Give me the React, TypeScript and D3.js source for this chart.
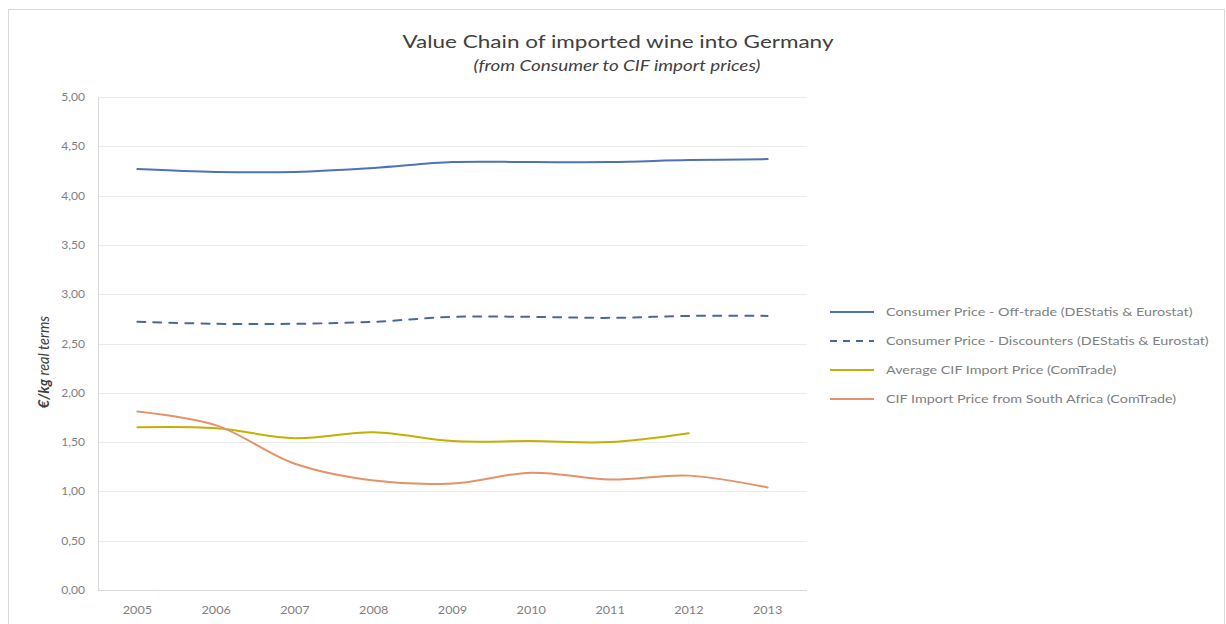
import React from "react";
import * as d3 from "d3";

const years = ["2005", "2006", "2007", "2008", "2009", "2010", "2011", "2012", "2013"];
const offTrade = [4.27, 4.24, 4.24, 4.28, 4.34, 4.34, 4.34, 4.36, 4.37];
const discounters = [2.72, 2.70, 2.70, 2.72, 2.77, 2.77, 2.76, 2.78, 2.78];
const avgCif = [1.65, 1.64, 1.54, 1.60, 1.51, 1.51, 1.50, 1.59, null];
const saCif = [1.81, 1.67, 1.28, 1.11, 1.08, 1.19, 1.12, 1.16, 1.04];
const yTicks = [0, 0.5, 1, 1.5, 2, 2.5, 3, 3.5, 4, 4.5, 5];

const seriesNames = [
  "Consumer Price - Off-trade (DEStatis & Eurostat)",
  "Consumer Price - Discounters (DEStatis & Eurostat)",
  "Average CIF Import Price (ComTrade)",
  "CIF Import Price from South Africa (ComTrade)",
];

const W = 1226;
const H = 624;
const plot = { left: 98, right: 807, top: 97, bottom: 590 };

export default function App() {
  const x = d3.scalePoint<string>().domain(years).range([plot.left, plot.right]).padding(0.5);
  const y = d3.scaleLinear().domain([0, 5]).range([plot.bottom, plot.top]);

  const series = [
    { name: seriesNames[0], values: offTrade, color: "#4e72ba", dash: undefined },
    { name: seriesNames[1], values: discounters, color: "#4a66a0", dash: "8,8" },
    { name: seriesNames[2], values: avgCif, color: "#c4b000", dash: undefined },
    { name: seriesNames[3], values: saCif, color: "#e3926a", dash: undefined },
  ];

  const line = d3
    .line<number | null>()
    .defined((d) => d !== null)
    .x((_, i) => x(years[i]) as number)
    .y((d) => y(d as number))
    .curve(d3.curveCatmullRom.alpha(0.5));

  const fmt = (v: number) => v.toFixed(2).replace(".", ",");
  const font = "Lato, 'Open Sans', sans-serif";
  const legendX = 830;
  const legendY0 = 312;
  const legendStep = 29;
  const sx = 1.25;

  return (
    <svg
      width={W}
      height={H}
      style={{ position: "absolute", left: 0, top: 0, background: "#fff" }}
      fontFamily={font}
    >
      <rect x={8.5} y={9.5} width={1216} height={640} fill="#fff" stroke="#d9d9d9" />
      <g transform={`translate(618,48) scale(${sx},1)`}>
        <text textAnchor="middle" fontSize={18} fill="#404040">
          Value Chain of imported wine into Germany
        </text>
      </g>
      <g transform={`translate(617,71) scale(1.3,1)`}>
        <text textAnchor="middle" fontSize={14.5} fontStyle="italic" fill="#404040">
          (from Consumer to CIF import prices)
        </text>
      </g>

      {yTicks.map((t) => (
        <g key={t}>
          <line
            x1={plot.left}
            x2={plot.right}
            y1={Math.round(y(t)) + 0.5}
            y2={Math.round(y(t)) + 0.5}
            stroke={t === 0 ? "#d9d9d9" : "#ebebeb"}
            strokeWidth={1}
          />
          <g transform={`translate(85,${y(t) + 4}) scale(1.1,1)`}>
            <text textAnchor="end" fontSize={11} fill="#7f7f7f">
              {fmt(t)}
            </text>
          </g>
        </g>
      ))}
      <line x1={plot.left + 0.5} x2={plot.left + 0.5} y1={plot.top} y2={plot.bottom} stroke="#d9d9d9" />

      {years.map((yr) => (
        <g key={yr} transform={`translate(${x(yr)},614) scale(1.15,1)`}>
          <text textAnchor="middle" fontSize={11} fill="#7f7f7f">
            {yr}
          </text>
        </g>
      ))}

      <text
        transform={`translate(49,${362}) rotate(-90)`}
        textAnchor="middle"
        fontSize={14.5}
        fontStyle="italic"
        fill="#404040"
      >
        <tspan fontWeight="bold">€/kg</tspan> real terms
      </text>

      {series.map((s) => (
        <path
          key={s.name}
          d={line(s.values as (number | null)[]) || ""}
          fill="none"
          stroke={s.color}
          strokeWidth={2}
          strokeDasharray={s.dash}
          strokeLinecap="round"
        />
      ))}

      {series.map((s, i) => (
        <g key={s.name} transform={`translate(${legendX},${legendY0 + i * legendStep})`}>
          <line x1={0} x2={44} y1={0} y2={0} stroke={s.color} strokeWidth={2} strokeDasharray={s.dash ? "7,6" : undefined} />
          <g transform={`translate(56,4) scale(${sx},1)`}>
            <text fontSize={11.5} fill="#7f7f7f">
              {s.name}
            </text>
          </g>
        </g>
      ))}
    </svg>
  );
}
